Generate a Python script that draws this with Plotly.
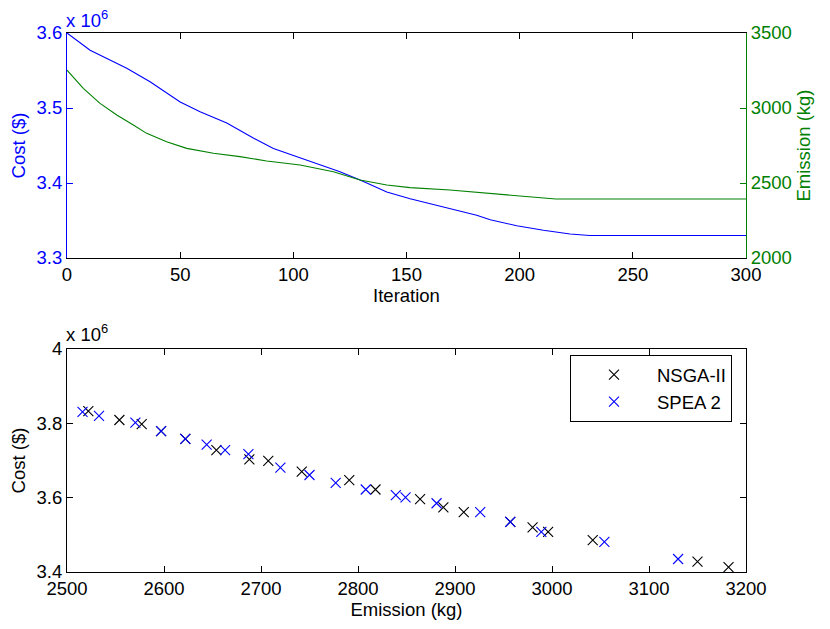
import plotly.graph_objects as go

# ---- Top panel: convergence vs iteration ----
cost_iter = [0, 10.2, 26.4, 36.7, 50, 58.8, 70.6, 82.3, 91.2, 100, 111.8, 120.6, 129.5,
             141.3, 151.6, 169.2, 181, 187, 198.7, 210.5, 222.3, 231, 300]
cost_vals = [3.600, 3.577, 3.553, 3.535, 3.508, 3.495, 3.480, 3.460, 3.446, 3.437, 3.424,
             3.415, 3.404, 3.388, 3.379, 3.366, 3.357, 3.351, 3.343, 3.337, 3.332, 3.330, 3.330]

emis_iter = [0, 7.2, 14.6, 22, 29.3, 35.2, 44, 52.9, 64.7, 76.4, 88.2, 103, 117.7, 129.5,
             141.3, 151.6, 169.2, 187, 201.6, 216, 300]
emis_vals = [3253, 3131, 3031, 2953, 2887, 2831, 2775, 2731, 2698, 2676, 2647, 2620, 2575,
             2520, 2487, 2469, 2453, 2431, 2409, 2393, 2393]

# ---- Bottom panel: Pareto fronts ----
nsga_emission = [2522, 2554, 2577, 2597, 2622, 2654, 2688, 2707.5, 2742, 2791, 2818, 2864,
                 2888, 2909, 2957, 2980, 2996, 3042, 3150, 3182]
nsga_cost = [3.833, 3.809, 3.798, 3.779, 3.758, 3.728, 3.703, 3.699, 3.670, 3.647, 3.622,
             3.596, 3.574, 3.561, 3.535, 3.520, 3.508, 3.486, 3.428, 3.413]
spea_emission = [2516, 2533, 2570.5, 2597, 2622, 2644, 2663, 2687, 2720, 2750, 2777, 2808,
                 2839, 2849, 2881, 2926, 2957, 2989, 3054, 3130]
spea_cost = [3.831, 3.820, 3.802, 3.779, 3.758, 3.743, 3.728, 3.717, 3.681, 3.661, 3.640,
             3.622, 3.607, 3.601, 3.585, 3.561, 3.535, 3.508, 3.481, 3.435]

top_xticks = [0, 50, 100, 150, 200, 250, 300]
top_yticks = [3.3, 3.4, 3.5, 3.6]
top_y2ticks = [2000, 2500, 3000, 3500]
bot_xticks = [2500, 2600, 2700, 2800, 2900, 3000, 3100, 3200]
bot_yticks = [3.4, 3.6, 3.8, 4.0]

BLUE = "#0000ff"
GREEN = "#008000"
FONT = "Liberation Sans, Arial, sans-serif"
FS = 18.5

W, H = 830, 629
OFF = 8                                  # page body offset in the browser
L, R, T, B = 67 - OFF, 746 - OFF, 33 - OFF, 572 - OFF   # plot-area box in figure pixels
PW, PH = R - L, B - T


def px(xp):
    return (xp - OFF - L) / PW


def py(yp):
    return (B - (yp - OFF)) / PH


fig = go.Figure()
fig.add_trace(go.Scatter(x=cost_iter, y=cost_vals, mode="lines", line=dict(color=BLUE, width=1.1),
                         xaxis="x", yaxis="y", showlegend=False))
fig.add_trace(go.Scatter(x=emis_iter, y=emis_vals, mode="lines", line=dict(color=GREEN, width=1.1),
                         xaxis="x", yaxis="y2", showlegend=False))
fig.add_trace(go.Scatter(x=nsga_emission, y=nsga_cost, mode="markers", name="NSGA-II",
                         marker=dict(symbol="x-thin-open", size=10, color="black",
                                     line=dict(color="black", width=1.1)),
                         xaxis="x2", yaxis="y3"))
fig.add_trace(go.Scatter(x=spea_emission, y=spea_cost, mode="markers", name="SPEA 2",
                         marker=dict(symbol="x-thin-open", size=10, color=BLUE,
                                     line=dict(color=BLUE, width=1.1)),
                         xaxis="x2", yaxis="y3"))

top_dom = [py(258), 1.0]
bot_dom = [0.0, py(349)]

base = dict(showgrid=False, zeroline=False, ticks="inside", ticklen=6, showline=True,
            linewidth=1.1, automargin=False)
tf = dict(family=FONT, size=FS)

fig.update_layout(
    width=W, height=H,
    margin=dict(l=L, r=W - R, t=T, b=H - B, pad=0),
    paper_bgcolor="white", plot_bgcolor="white",
    font=dict(family=FONT, size=FS, color="black"),
    xaxis=dict(domain=[0, 1], anchor="y", range=[0, 300], tickvals=top_xticks,
               linecolor="black", tickcolor="black", mirror="ticks", tickfont=tf,
               title=dict(text="Iteration", font=tf, standoff=2), **base),
    yaxis=dict(domain=top_dom, anchor="x", range=[3.3, 3.6], tickvals=top_yticks,
               ticktext=["3.3", "3.4", "3.5", "3.6"],
               linecolor=BLUE, tickcolor=BLUE, tickfont=dict(family=FONT, size=FS, color=BLUE),
               title=dict(text="Cost ($)", font=dict(family=FONT, size=FS, color=BLUE), standoff=8),
               **base),
    yaxis2=dict(domain=top_dom, anchor="x", overlaying="y", side="right", range=[2000, 3500],
                tickvals=top_y2ticks, linecolor=GREEN, tickcolor=GREEN,
                tickfont=dict(family=FONT, size=FS, color=GREEN),
                title=dict(text="Emission (kg)", font=dict(family=FONT, size=FS, color=GREEN), standoff=6),
                **base),
    xaxis2=dict(domain=[0, 1], anchor="y3", range=[2500, 3200], tickvals=bot_xticks,
                linecolor="black", tickcolor="black", mirror="ticks", tickfont=tf,
                title=dict(text="Emission (kg)", font=tf, standoff=2), **base),
    yaxis3=dict(domain=bot_dom, anchor="x2", range=[3.4, 4.0], tickvals=bot_yticks,
                ticktext=["3.4", "3.6", "3.8", "4"],
                linecolor="black", tickcolor="black", mirror="ticks", tickfont=tf,
                title=dict(text="Cost ($)", font=tf, standoff=8), **base),
    legend=dict(x=px(732), xanchor="right", y=py(355), yanchor="top",
                bgcolor="white", bordercolor="black", borderwidth=1,
                font=tf, itemwidth=76),
    annotations=[
        dict(text="x 10<sup>6</sup>", x=px(64), y=py(33), xref="paper", yref="paper",
             xanchor="left", yanchor="bottom", showarrow=False,
             font=dict(family=FONT, size=FS, color=BLUE)),
        dict(text="x 10<sup>6</sup>", x=px(64), y=py(347), xref="paper", yref="paper",
             xanchor="left", yanchor="bottom", showarrow=False,
             font=dict(family=FONT, size=FS, color="black")),
    ],
)

fig.write_html("out.html")
